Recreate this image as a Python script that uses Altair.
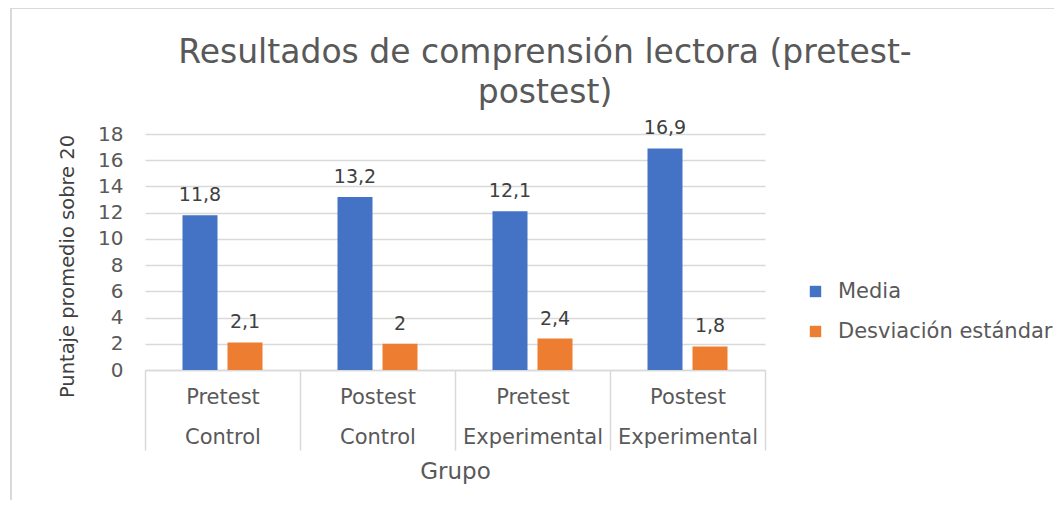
import altair as alt
import pandas as pd

grupos = ["Pretest|Control", "Postest|Control", "Pretest|Experimental", "Postest|Experimental"]
media = [11.8, 13.2, 12.1, 16.9]
desviacion = [2.1, 2.0, 2.4, 1.8]
series = ["Media", "Desviación estándar"]
colores = ["#4472C4", "#ED7D31"]

rows = []
for g, m, d in zip(grupos, media, desviacion):
    rows.append({"grupo": g, "serie": series[0], "valor": m})
    rows.append({"grupo": g, "serie": series[1], "valor": d})
df = pd.DataFrame(rows)

FONT = "DejaVu Sans"
GRAY = "#595959"
FRAME = "#d9d9d9"

base = alt.Chart(df).transform_calculate(
    etiqueta="replace(toString(datum.valor), '.', ',')"
)

x_enc = alt.X(
    "grupo:N",
    sort=grupos,
    scale=alt.Scale(paddingInner=0, paddingOuter=0),
    axis=alt.Axis(
        title="Grupo",
        labelExpr="split(datum.label, '|')",
        labelAngle=0,
        labelLineHeight=40,
        labelFontSize=21,
        labelColor=GRAY,
        labelFont=FONT,
        labelPadding=-64,
        labelBaseline="top",
        labelOverlap=False,
        domainColor=FRAME,
        tickColor=FRAME,
        tickSize=80,
        tickBand="extent",
        tickWidth=1.5,
        domainWidth=1.5,
        titleFontSize=23,
        titleFont=FONT,
        titleColor=GRAY,
        titleFontWeight="normal",
        titleY=101,
        titleBaseline="middle",
    ),
)
xo_enc = alt.XOffset(
    "serie:N",
    sort=series,
    scale=alt.Scale(paddingInner=0.222, paddingOuter=0.833),
)
y_enc = alt.Y(
    "valor:Q",
    scale=alt.Scale(domain=[0, 18]),
    axis=alt.Axis(
        title="Puntaje promedio sobre 20",
        values=[0, 2, 4, 6, 8, 10, 12, 14, 16, 18],
        labelOverlap=False,
        domain=False,
        ticks=False,
        grid=True,
        gridColor=FRAME,
        gridWidth=1.5,
        labelFontSize=20,
        labelFont=FONT,
        labelColor=GRAY,
        labelPadding=22,
        titleFontSize=19.5,
        titleFont=FONT,
        titleColor="#404040",
        titleFontWeight="normal",
        titleX=-78,
        titleY=132,
        titleAngle=-90,
        titleBaseline="middle",
    ),
)

bars = base.mark_bar().encode(
    x=x_enc,
    xOffset=xo_enc,
    y=y_enc,
    color=alt.Color(
        "serie:N",
        sort=series,
        scale=alt.Scale(domain=series, range=colores),
        legend=alt.Legend(
            title=None,
            orient="none",
            legendX=660,
            legendY=147,
            symbolType="square",
            symbolSize=130,
            symbolStrokeWidth=0,
            labelFontSize=21,
            labelFont=FONT,
            labelColor=GRAY,
            labelLimit=300,
            rowPadding=18,
            labelOffset=12,
        ),
    ),
)

labels = base.mark_text(
    dy=-20, fontSize=19, font=FONT, color="#404040"
).encode(
    x=x_enc,
    xOffset=xo_enc,
    y=y_enc,
    text="etiqueta:N",
)

# chart-area frame (top and left edges, as in the reference)
frame_top = alt.Chart(df).mark_rule(color=FRAME, strokeWidth=2).encode(
    x=alt.value(-134), x2=alt.value(920), y=alt.value(-126)
)
frame_left = alt.Chart(df).mark_rule(color=FRAME, strokeWidth=2).encode(
    x=alt.value(-134), y=alt.value(-126), y2=alt.value(380)
)

chart = alt.layer(bars, labels, frame_top, frame_left).properties(
    width=620,
    height=236,
    title=alt.TitleParams(
        text=["Resultados de comprensión lectora (pretest-", "postest)"],
        fontSize=33,
        font=FONT,
        fontWeight="normal",
        color=GRAY,
        anchor="middle",
        dx=90,
        dy=103,
        lineHeight=40,
        offset=0,
    ),
    autosize=alt.AutoSizeParams(type="none"),
    padding={"left": 137, "top": 126, "right": 289, "bottom": 130},
).configure_view(stroke=None)

chart.save("out.html", embed_options={"renderer": "svg", "actions": False})
